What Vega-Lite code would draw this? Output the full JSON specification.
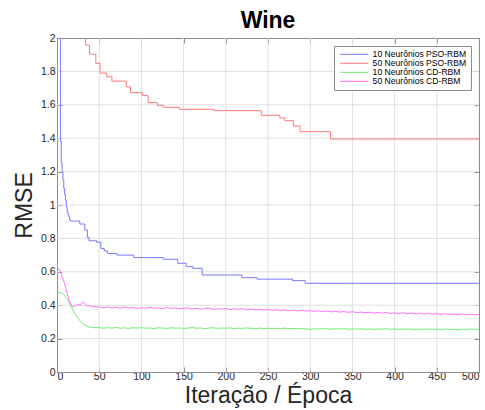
{
  "$schema": "https://vega.github.io/schema/vega-lite/v6.json",
  "width": 422,
  "height": 334,
  "autosize": {"type": "none"},
  "padding": {"left": 57, "top": 38, "right": 6, "bottom": 38},
  "background": "white",
  "title": {
    "text": "Wine",
    "font": "Liberation Sans",
    "fontSize": 23,
    "fontWeight": "bold",
    "color": "#000000",
    "anchor": "middle",
    "offset": 0
  },
  "config": {
    "view": {"stroke": "#8c8c8c", "strokeWidth": 1},
    "axis": {
      "labelFont": "Liberation Sans",
      "labelFontSize": 10.5,
      "labelColor": "#262626",
      "labelOverlap": false,
      "titleFont": "Liberation Sans",
      "titleFontWeight": "normal",
      "titleColor": "#262626",
      "titleFontSize": 23,
      "domainColor": "#8c8c8c",
      "tickColor": "#8c8c8c",
      "tickSize": -5,
      "grid": false
    },
    "legend": {
      "labelFont": "Liberation Sans",
      "labelFontSize": 8.6,
      "labelColor": "#000000"
    }
  },
  "resolve": {"axis": {"x": "independent", "y": "independent"}},
  "datasets": {
    "grade_x": [
      {"x": 50}, {"x": 100}, {"x": 150}, {"x": 200}, {"x": 250},
      {"x": 300}, {"x": 350}, {"x": 400}, {"x": 450}
    ],
    "grade_y": [
      {"rmse": 0.2}, {"rmse": 0.4}, {"rmse": 0.6}, {"rmse": 0.8}, {"rmse": 1},
      {"rmse": 1.2}, {"rmse": 1.4}, {"rmse": 1.6}, {"rmse": 1.8}
    ],
    "passos": [
      {"serie": "10 Neurônios PSO-RBM", "x": 0, "rmse": 3.5},
      {"serie": "10 Neurônios PSO-RBM", "x": 4, "rmse": 1.38},
      {"serie": "10 Neurônios PSO-RBM", "x": 5, "rmse": 1.25},
      {"serie": "10 Neurônios PSO-RBM", "x": 6, "rmse": 1.2},
      {"serie": "10 Neurônios PSO-RBM", "x": 7, "rmse": 1.15},
      {"serie": "10 Neurônios PSO-RBM", "x": 8, "rmse": 1.1},
      {"serie": "10 Neurônios PSO-RBM", "x": 9, "rmse": 1.06},
      {"serie": "10 Neurônios PSO-RBM", "x": 10, "rmse": 1.03},
      {"serie": "10 Neurônios PSO-RBM", "x": 11, "rmse": 0.99},
      {"serie": "10 Neurônios PSO-RBM", "x": 12, "rmse": 0.96},
      {"serie": "10 Neurônios PSO-RBM", "x": 13, "rmse": 0.94},
      {"serie": "10 Neurônios PSO-RBM", "x": 14, "rmse": 0.93},
      {"serie": "10 Neurônios PSO-RBM", "x": 15, "rmse": 0.91},
      {"serie": "10 Neurônios PSO-RBM", "x": 16, "rmse": 0.904},
      {"serie": "10 Neurônios PSO-RBM", "x": 27, "rmse": 0.886},
      {"serie": "10 Neurônios PSO-RBM", "x": 33, "rmse": 0.85},
      {"serie": "10 Neurônios PSO-RBM", "x": 36, "rmse": 0.806},
      {"serie": "10 Neurônios PSO-RBM", "x": 38, "rmse": 0.786},
      {"serie": "10 Neurônios PSO-RBM", "x": 47, "rmse": 0.777},
      {"serie": "10 Neurônios PSO-RBM", "x": 52, "rmse": 0.74},
      {"serie": "10 Neurônios PSO-RBM", "x": 56, "rmse": 0.725},
      {"serie": "10 Neurônios PSO-RBM", "x": 60, "rmse": 0.71},
      {"serie": "10 Neurônios PSO-RBM", "x": 71, "rmse": 0.7},
      {"serie": "10 Neurônios PSO-RBM", "x": 91, "rmse": 0.685},
      {"serie": "10 Neurônios PSO-RBM", "x": 126, "rmse": 0.675},
      {"serie": "10 Neurônios PSO-RBM", "x": 143, "rmse": 0.651},
      {"serie": "10 Neurônios PSO-RBM", "x": 153, "rmse": 0.631},
      {"serie": "10 Neurônios PSO-RBM", "x": 161, "rmse": 0.621},
      {"serie": "10 Neurônios PSO-RBM", "x": 172, "rmse": 0.581},
      {"serie": "10 Neurônios PSO-RBM", "x": 219, "rmse": 0.565},
      {"serie": "10 Neurônios PSO-RBM", "x": 237, "rmse": 0.556},
      {"serie": "10 Neurônios PSO-RBM", "x": 279, "rmse": 0.547},
      {"serie": "10 Neurônios PSO-RBM", "x": 294, "rmse": 0.531},
      {"serie": "10 Neurônios PSO-RBM", "x": 500, "rmse": 0.531},
      {"serie": "50 Neurônios PSO-RBM", "x": 0, "rmse": 2.4},
      {"serie": "50 Neurônios PSO-RBM", "x": 34, "rmse": 1.957},
      {"serie": "50 Neurônios PSO-RBM", "x": 38.5, "rmse": 1.903},
      {"serie": "50 Neurônios PSO-RBM", "x": 46, "rmse": 1.848},
      {"serie": "50 Neurônios PSO-RBM", "x": 51, "rmse": 1.79},
      {"serie": "50 Neurônios PSO-RBM", "x": 59, "rmse": 1.768},
      {"serie": "50 Neurônios PSO-RBM", "x": 65, "rmse": 1.742},
      {"serie": "50 Neurônios PSO-RBM", "x": 82, "rmse": 1.707},
      {"serie": "50 Neurônios PSO-RBM", "x": 87, "rmse": 1.673},
      {"serie": "50 Neurônios PSO-RBM", "x": 101, "rmse": 1.655},
      {"serie": "50 Neurônios PSO-RBM", "x": 108, "rmse": 1.613},
      {"serie": "50 Neurônios PSO-RBM", "x": 119, "rmse": 1.597},
      {"serie": "50 Neurônios PSO-RBM", "x": 126, "rmse": 1.585},
      {"serie": "50 Neurônios PSO-RBM", "x": 145, "rmse": 1.573},
      {"serie": "50 Neurônios PSO-RBM", "x": 186, "rmse": 1.565},
      {"serie": "50 Neurônios PSO-RBM", "x": 242, "rmse": 1.537},
      {"serie": "50 Neurônios PSO-RBM", "x": 264, "rmse": 1.521},
      {"serie": "50 Neurônios PSO-RBM", "x": 270, "rmse": 1.505},
      {"serie": "50 Neurônios PSO-RBM", "x": 280, "rmse": 1.473},
      {"serie": "50 Neurônios PSO-RBM", "x": 288, "rmse": 1.439},
      {"serie": "50 Neurônios PSO-RBM", "x": 324, "rmse": 1.395},
      {"serie": "50 Neurônios PSO-RBM", "x": 500, "rmse": 1.395}
    ],
    "ruido": [
      {"serie": "10 Neurônios CD-RBM", "x": 0, "rmse": 0.477},
      {"serie": "10 Neurônios CD-RBM", "x": 3, "rmse": 0.475},
      {"serie": "10 Neurônios CD-RBM", "x": 6, "rmse": 0.472},
      {"serie": "10 Neurônios CD-RBM", "x": 8, "rmse": 0.46},
      {"serie": "10 Neurônios CD-RBM", "x": 10, "rmse": 0.45},
      {"serie": "10 Neurônios CD-RBM", "x": 13, "rmse": 0.431},
      {"serie": "10 Neurônios CD-RBM", "x": 16, "rmse": 0.4},
      {"serie": "10 Neurônios CD-RBM", "x": 19, "rmse": 0.371},
      {"serie": "10 Neurônios CD-RBM", "x": 22, "rmse": 0.345},
      {"serie": "10 Neurônios CD-RBM", "x": 25, "rmse": 0.321},
      {"serie": "10 Neurônios CD-RBM", "x": 28, "rmse": 0.302},
      {"serie": "10 Neurônios CD-RBM", "x": 31, "rmse": 0.287},
      {"serie": "10 Neurônios CD-RBM", "x": 34, "rmse": 0.278},
      {"serie": "10 Neurônios CD-RBM", "x": 37, "rmse": 0.271},
      {"serie": "10 Neurônios CD-RBM", "x": 41, "rmse": 0.267},
      {"serie": "10 Neurônios CD-RBM", "x": 45, "rmse": 0.265},
      {"serie": "10 Neurônios CD-RBM", "x": 50, "rmse": 0.266},
      {"serie": "10 Neurônios CD-RBM", "x": 55, "rmse": 0.262},
      {"serie": "10 Neurônios CD-RBM", "x": 60, "rmse": 0.265},
      {"serie": "10 Neurônios CD-RBM", "x": 65, "rmse": 0.263},
      {"serie": "10 Neurônios CD-RBM", "x": 70, "rmse": 0.267},
      {"serie": "10 Neurônios CD-RBM", "x": 75, "rmse": 0.262},
      {"serie": "10 Neurônios CD-RBM", "x": 80, "rmse": 0.264},
      {"serie": "10 Neurônios CD-RBM", "x": 85, "rmse": 0.261},
      {"serie": "10 Neurônios CD-RBM", "x": 90, "rmse": 0.265},
      {"serie": "10 Neurônios CD-RBM", "x": 95, "rmse": 0.263},
      {"serie": "10 Neurônios CD-RBM", "x": 100, "rmse": 0.266},
      {"serie": "10 Neurônios CD-RBM", "x": 105, "rmse": 0.262},
      {"serie": "10 Neurônios CD-RBM", "x": 110, "rmse": 0.264},
      {"serie": "10 Neurônios CD-RBM", "x": 115, "rmse": 0.26},
      {"serie": "10 Neurônios CD-RBM", "x": 120, "rmse": 0.265},
      {"serie": "10 Neurônios CD-RBM", "x": 125, "rmse": 0.263},
      {"serie": "10 Neurônios CD-RBM", "x": 130, "rmse": 0.261},
      {"serie": "10 Neurônios CD-RBM", "x": 135, "rmse": 0.265},
      {"serie": "10 Neurônios CD-RBM", "x": 140, "rmse": 0.262},
      {"serie": "10 Neurônios CD-RBM", "x": 145, "rmse": 0.264},
      {"serie": "10 Neurônios CD-RBM", "x": 150, "rmse": 0.261},
      {"serie": "10 Neurônios CD-RBM", "x": 155, "rmse": 0.263},
      {"serie": "10 Neurônios CD-RBM", "x": 160, "rmse": 0.266},
      {"serie": "10 Neurônios CD-RBM", "x": 165, "rmse": 0.262},
      {"serie": "10 Neurônios CD-RBM", "x": 170, "rmse": 0.264},
      {"serie": "10 Neurônios CD-RBM", "x": 175, "rmse": 0.26},
      {"serie": "10 Neurônios CD-RBM", "x": 180, "rmse": 0.263},
      {"serie": "10 Neurônios CD-RBM", "x": 185, "rmse": 0.265},
      {"serie": "10 Neurônios CD-RBM", "x": 190, "rmse": 0.261},
      {"serie": "10 Neurônios CD-RBM", "x": 195, "rmse": 0.263},
      {"serie": "10 Neurônios CD-RBM", "x": 200, "rmse": 0.262},
      {"serie": "10 Neurônios CD-RBM", "x": 205, "rmse": 0.264},
      {"serie": "10 Neurônios CD-RBM", "x": 210, "rmse": 0.26},
      {"serie": "10 Neurônios CD-RBM", "x": 215, "rmse": 0.263},
      {"serie": "10 Neurônios CD-RBM", "x": 220, "rmse": 0.261},
      {"serie": "10 Neurônios CD-RBM", "x": 225, "rmse": 0.264},
      {"serie": "10 Neurônios CD-RBM", "x": 230, "rmse": 0.262},
      {"serie": "10 Neurônios CD-RBM", "x": 235, "rmse": 0.26},
      {"serie": "10 Neurônios CD-RBM", "x": 240, "rmse": 0.263},
      {"serie": "10 Neurônios CD-RBM", "x": 245, "rmse": 0.261},
      {"serie": "10 Neurônios CD-RBM", "x": 250, "rmse": 0.262},
      {"serie": "10 Neurônios CD-RBM", "x": 255, "rmse": 0.259},
      {"serie": "10 Neurônios CD-RBM", "x": 260, "rmse": 0.262},
      {"serie": "10 Neurônios CD-RBM", "x": 265, "rmse": 0.26},
      {"serie": "10 Neurônios CD-RBM", "x": 270, "rmse": 0.263},
      {"serie": "10 Neurônios CD-RBM", "x": 275, "rmse": 0.26},
      {"serie": "10 Neurônios CD-RBM", "x": 280, "rmse": 0.261},
      {"serie": "10 Neurônios CD-RBM", "x": 285, "rmse": 0.259},
      {"serie": "10 Neurônios CD-RBM", "x": 290, "rmse": 0.262},
      {"serie": "10 Neurônios CD-RBM", "x": 295, "rmse": 0.258},
      {"serie": "10 Neurônios CD-RBM", "x": 300, "rmse": 0.255},
      {"serie": "10 Neurônios CD-RBM", "x": 305, "rmse": 0.259},
      {"serie": "10 Neurônios CD-RBM", "x": 310, "rmse": 0.257},
      {"serie": "10 Neurônios CD-RBM", "x": 315, "rmse": 0.26},
      {"serie": "10 Neurônios CD-RBM", "x": 320, "rmse": 0.258},
      {"serie": "10 Neurônios CD-RBM", "x": 325, "rmse": 0.256},
      {"serie": "10 Neurônios CD-RBM", "x": 330, "rmse": 0.259},
      {"serie": "10 Neurônios CD-RBM", "x": 335, "rmse": 0.257},
      {"serie": "10 Neurônios CD-RBM", "x": 340, "rmse": 0.26},
      {"serie": "10 Neurônios CD-RBM", "x": 345, "rmse": 0.256},
      {"serie": "10 Neurônios CD-RBM", "x": 350, "rmse": 0.258},
      {"serie": "10 Neurônios CD-RBM", "x": 355, "rmse": 0.257},
      {"serie": "10 Neurônios CD-RBM", "x": 360, "rmse": 0.259},
      {"serie": "10 Neurônios CD-RBM", "x": 365, "rmse": 0.256},
      {"serie": "10 Neurônios CD-RBM", "x": 370, "rmse": 0.258},
      {"serie": "10 Neurônios CD-RBM", "x": 375, "rmse": 0.255},
      {"serie": "10 Neurônios CD-RBM", "x": 380, "rmse": 0.258},
      {"serie": "10 Neurônios CD-RBM", "x": 385, "rmse": 0.256},
      {"serie": "10 Neurônios CD-RBM", "x": 390, "rmse": 0.259},
      {"serie": "10 Neurônios CD-RBM", "x": 395, "rmse": 0.256},
      {"serie": "10 Neurônios CD-RBM", "x": 400, "rmse": 0.257},
      {"serie": "10 Neurônios CD-RBM", "x": 405, "rmse": 0.255},
      {"serie": "10 Neurônios CD-RBM", "x": 410, "rmse": 0.258},
      {"serie": "10 Neurônios CD-RBM", "x": 415, "rmse": 0.256},
      {"serie": "10 Neurônios CD-RBM", "x": 420, "rmse": 0.257},
      {"serie": "10 Neurônios CD-RBM", "x": 425, "rmse": 0.254},
      {"serie": "10 Neurônios CD-RBM", "x": 430, "rmse": 0.257},
      {"serie": "10 Neurônios CD-RBM", "x": 435, "rmse": 0.255},
      {"serie": "10 Neurônios CD-RBM", "x": 440, "rmse": 0.258},
      {"serie": "10 Neurônios CD-RBM", "x": 445, "rmse": 0.255},
      {"serie": "10 Neurônios CD-RBM", "x": 450, "rmse": 0.256},
      {"serie": "10 Neurônios CD-RBM", "x": 455, "rmse": 0.254},
      {"serie": "10 Neurônios CD-RBM", "x": 460, "rmse": 0.257},
      {"serie": "10 Neurônios CD-RBM", "x": 465, "rmse": 0.255},
      {"serie": "10 Neurônios CD-RBM", "x": 470, "rmse": 0.256},
      {"serie": "10 Neurônios CD-RBM", "x": 475, "rmse": 0.253},
      {"serie": "10 Neurônios CD-RBM", "x": 480, "rmse": 0.256},
      {"serie": "10 Neurônios CD-RBM", "x": 485, "rmse": 0.254},
      {"serie": "10 Neurônios CD-RBM", "x": 490, "rmse": 0.257},
      {"serie": "10 Neurônios CD-RBM", "x": 495, "rmse": 0.255},
      {"serie": "10 Neurônios CD-RBM", "x": 500, "rmse": 0.256},
      {"serie": "50 Neurônios CD-RBM", "x": 0, "rmse": 0.631},
      {"serie": "50 Neurônios CD-RBM", "x": 2, "rmse": 0.62},
      {"serie": "50 Neurônios CD-RBM", "x": 4, "rmse": 0.6},
      {"serie": "50 Neurônios CD-RBM", "x": 6, "rmse": 0.57},
      {"serie": "50 Neurônios CD-RBM", "x": 9, "rmse": 0.531},
      {"serie": "50 Neurônios CD-RBM", "x": 12, "rmse": 0.471},
      {"serie": "50 Neurônios CD-RBM", "x": 15, "rmse": 0.421},
      {"serie": "50 Neurônios CD-RBM", "x": 17, "rmse": 0.4},
      {"serie": "50 Neurônios CD-RBM", "x": 19, "rmse": 0.391},
      {"serie": "50 Neurônios CD-RBM", "x": 22, "rmse": 0.398},
      {"serie": "50 Neurônios CD-RBM", "x": 25, "rmse": 0.405},
      {"serie": "50 Neurônios CD-RBM", "x": 28, "rmse": 0.4},
      {"serie": "50 Neurônios CD-RBM", "x": 31, "rmse": 0.42},
      {"serie": "50 Neurônios CD-RBM", "x": 33, "rmse": 0.41},
      {"serie": "50 Neurônios CD-RBM", "x": 35, "rmse": 0.395},
      {"serie": "50 Neurônios CD-RBM", "x": 38, "rmse": 0.398},
      {"serie": "50 Neurônios CD-RBM", "x": 41, "rmse": 0.39},
      {"serie": "50 Neurônios CD-RBM", "x": 45, "rmse": 0.392},
      {"serie": "50 Neurônios CD-RBM", "x": 50, "rmse": 0.388},
      {"serie": "50 Neurônios CD-RBM", "x": 55, "rmse": 0.384},
      {"serie": "50 Neurônios CD-RBM", "x": 60, "rmse": 0.39},
      {"serie": "50 Neurônios CD-RBM", "x": 65, "rmse": 0.383},
      {"serie": "50 Neurônios CD-RBM", "x": 70, "rmse": 0.387},
      {"serie": "50 Neurônios CD-RBM", "x": 75, "rmse": 0.381},
      {"serie": "50 Neurônios CD-RBM", "x": 80, "rmse": 0.389},
      {"serie": "50 Neurônios CD-RBM", "x": 85, "rmse": 0.384},
      {"serie": "50 Neurônios CD-RBM", "x": 90, "rmse": 0.386},
      {"serie": "50 Neurônios CD-RBM", "x": 95, "rmse": 0.38},
      {"serie": "50 Neurônios CD-RBM", "x": 100, "rmse": 0.385},
      {"serie": "50 Neurônios CD-RBM", "x": 105, "rmse": 0.382},
      {"serie": "50 Neurônios CD-RBM", "x": 110, "rmse": 0.388},
      {"serie": "50 Neurônios CD-RBM", "x": 115, "rmse": 0.381},
      {"serie": "50 Neurônios CD-RBM", "x": 120, "rmse": 0.384},
      {"serie": "50 Neurônios CD-RBM", "x": 125, "rmse": 0.379},
      {"serie": "50 Neurônios CD-RBM", "x": 130, "rmse": 0.386},
      {"serie": "50 Neurônios CD-RBM", "x": 135, "rmse": 0.381},
      {"serie": "50 Neurônios CD-RBM", "x": 140, "rmse": 0.383},
      {"serie": "50 Neurônios CD-RBM", "x": 145, "rmse": 0.378},
      {"serie": "50 Neurônios CD-RBM", "x": 150, "rmse": 0.382},
      {"serie": "50 Neurônios CD-RBM", "x": 155, "rmse": 0.384},
      {"serie": "50 Neurônios CD-RBM", "x": 160, "rmse": 0.377},
      {"serie": "50 Neurônios CD-RBM", "x": 165, "rmse": 0.381},
      {"serie": "50 Neurônios CD-RBM", "x": 170, "rmse": 0.376},
      {"serie": "50 Neurônios CD-RBM", "x": 175, "rmse": 0.38},
      {"serie": "50 Neurônios CD-RBM", "x": 180, "rmse": 0.383},
      {"serie": "50 Neurônios CD-RBM", "x": 185, "rmse": 0.375},
      {"serie": "50 Neurônios CD-RBM", "x": 190, "rmse": 0.379},
      {"serie": "50 Neurônios CD-RBM", "x": 195, "rmse": 0.376},
      {"serie": "50 Neurônios CD-RBM", "x": 200, "rmse": 0.381},
      {"serie": "50 Neurônios CD-RBM", "x": 205, "rmse": 0.374},
      {"serie": "50 Neurônios CD-RBM", "x": 210, "rmse": 0.378},
      {"serie": "50 Neurônios CD-RBM", "x": 215, "rmse": 0.375},
      {"serie": "50 Neurônios CD-RBM", "x": 220, "rmse": 0.379},
      {"serie": "50 Neurônios CD-RBM", "x": 225, "rmse": 0.373},
      {"serie": "50 Neurônios CD-RBM", "x": 230, "rmse": 0.377},
      {"serie": "50 Neurônios CD-RBM", "x": 235, "rmse": 0.372},
      {"serie": "50 Neurônios CD-RBM", "x": 240, "rmse": 0.376},
      {"serie": "50 Neurônios CD-RBM", "x": 245, "rmse": 0.371},
      {"serie": "50 Neurônios CD-RBM", "x": 250, "rmse": 0.375},
      {"serie": "50 Neurônios CD-RBM", "x": 255, "rmse": 0.369},
      {"serie": "50 Neurônios CD-RBM", "x": 260, "rmse": 0.373},
      {"serie": "50 Neurônios CD-RBM", "x": 265, "rmse": 0.368},
      {"serie": "50 Neurônios CD-RBM", "x": 270, "rmse": 0.372},
      {"serie": "50 Neurônios CD-RBM", "x": 275, "rmse": 0.367},
      {"serie": "50 Neurônios CD-RBM", "x": 280, "rmse": 0.371},
      {"serie": "50 Neurônios CD-RBM", "x": 285, "rmse": 0.366},
      {"serie": "50 Neurônios CD-RBM", "x": 290, "rmse": 0.369},
      {"serie": "50 Neurônios CD-RBM", "x": 295, "rmse": 0.365},
      {"serie": "50 Neurônios CD-RBM", "x": 300, "rmse": 0.368},
      {"serie": "50 Neurônios CD-RBM", "x": 305, "rmse": 0.362},
      {"serie": "50 Neurônios CD-RBM", "x": 310, "rmse": 0.366},
      {"serie": "50 Neurônios CD-RBM", "x": 315, "rmse": 0.361},
      {"serie": "50 Neurônios CD-RBM", "x": 320, "rmse": 0.365},
      {"serie": "50 Neurônios CD-RBM", "x": 325, "rmse": 0.36},
      {"serie": "50 Neurônios CD-RBM", "x": 330, "rmse": 0.364},
      {"serie": "50 Neurônios CD-RBM", "x": 335, "rmse": 0.359},
      {"serie": "50 Neurônios CD-RBM", "x": 340, "rmse": 0.362},
      {"serie": "50 Neurônios CD-RBM", "x": 345, "rmse": 0.357},
      {"serie": "50 Neurônios CD-RBM", "x": 350, "rmse": 0.361},
      {"serie": "50 Neurônios CD-RBM", "x": 355, "rmse": 0.356},
      {"serie": "50 Neurônios CD-RBM", "x": 360, "rmse": 0.359},
      {"serie": "50 Neurônios CD-RBM", "x": 365, "rmse": 0.355},
      {"serie": "50 Neurônios CD-RBM", "x": 370, "rmse": 0.358},
      {"serie": "50 Neurônios CD-RBM", "x": 375, "rmse": 0.353},
      {"serie": "50 Neurônios CD-RBM", "x": 380, "rmse": 0.357},
      {"serie": "50 Neurônios CD-RBM", "x": 385, "rmse": 0.352},
      {"serie": "50 Neurônios CD-RBM", "x": 390, "rmse": 0.356},
      {"serie": "50 Neurônios CD-RBM", "x": 395, "rmse": 0.351},
      {"serie": "50 Neurônios CD-RBM", "x": 400, "rmse": 0.354},
      {"serie": "50 Neurônios CD-RBM", "x": 405, "rmse": 0.35},
      {"serie": "50 Neurônios CD-RBM", "x": 410, "rmse": 0.355},
      {"serie": "50 Neurônios CD-RBM", "x": 415, "rmse": 0.349},
      {"serie": "50 Neurônios CD-RBM", "x": 420, "rmse": 0.353},
      {"serie": "50 Neurônios CD-RBM", "x": 425, "rmse": 0.348},
      {"serie": "50 Neurônios CD-RBM", "x": 430, "rmse": 0.352},
      {"serie": "50 Neurônios CD-RBM", "x": 435, "rmse": 0.347},
      {"serie": "50 Neurônios CD-RBM", "x": 440, "rmse": 0.351},
      {"serie": "50 Neurônios CD-RBM", "x": 445, "rmse": 0.346},
      {"serie": "50 Neurônios CD-RBM", "x": 450, "rmse": 0.35},
      {"serie": "50 Neurônios CD-RBM", "x": 455, "rmse": 0.345},
      {"serie": "50 Neurônios CD-RBM", "x": 460, "rmse": 0.349},
      {"serie": "50 Neurônios CD-RBM", "x": 465, "rmse": 0.344},
      {"serie": "50 Neurônios CD-RBM", "x": 470, "rmse": 0.348},
      {"serie": "50 Neurônios CD-RBM", "x": 475, "rmse": 0.343},
      {"serie": "50 Neurônios CD-RBM", "x": 480, "rmse": 0.347},
      {"serie": "50 Neurônios CD-RBM", "x": 485, "rmse": 0.343},
      {"serie": "50 Neurônios CD-RBM", "x": 490, "rmse": 0.346},
      {"serie": "50 Neurônios CD-RBM", "x": 495, "rmse": 0.342},
      {"serie": "50 Neurônios CD-RBM", "x": 500, "rmse": 0.345}
    ]
  },
  "layer": [
    {
      "data": {"name": "grade_x"},
      "mark": {"type": "rule", "color": "#e0e0e0", "strokeWidth": 1},
      "encoding": {
        "x": {"field": "x", "type": "quantitative", "axis": null}
      }
    },
    {
      "data": {"name": "grade_y"},
      "mark": {"type": "rule", "color": "#e0e0e0", "strokeWidth": 1},
      "encoding": {
        "y": {"field": "rmse", "type": "quantitative", "axis": null}
      }
    },
    {
      "data": {"name": "passos"},
      "mark": {"type": "line", "interpolate": "step-after", "strokeWidth": 1, "clip": true},
      "encoding": {
        "x": {
          "field": "x", "type": "quantitative",
          "scale": {"domain": [0, 500], "nice": false},
          "axis": {"orient": "bottom", "values": [0, 50, 100, 150, 200, 250, 300, 350, 400, 450, 500], "title": "Iteração / Época", "labelPadding": 4, "titlePadding": 3}
        },
        "y": {
          "field": "rmse", "type": "quantitative",
          "scale": {"domain": [0, 2], "nice": false},
          "axis": {"orient": "left", "values": [0, 0.2, 0.4, 0.6, 0.8, 1, 1.2, 1.4, 1.6, 1.8, 2], "format": "~g", "title": "RMSE", "labelPadding": 7, "titlePadding": 4}
        },
        "color": {
          "field": "serie", "type": "nominal",
          "scale": {
            "domain": ["10 Neurônios PSO-RBM", "50 Neurônios PSO-RBM", "10 Neurônios CD-RBM", "50 Neurônios CD-RBM"],
            "range": ["#7878ff", "#ff7878", "#70ee70", "#ff70ff"]
          },
          "legend": {
            "title": null,
            "orient": "top-right",
            "offset": 8,
            "fillColor": "white",
            "strokeColor": "#8c8c8c",
            "padding": 4,
            "symbolType": "M-7,0H7",
            "symbolSize": 16,
            "symbolStrokeWidth": 1,
            "symbolOffset": 12,
            "labelOffset": 14,
            "rowPadding": -1
          }
        }
      }
    },
    {
      "data": {"name": "ruido"},
      "mark": {"type": "line", "strokeWidth": 1, "clip": true},
      "encoding": {
        "x": {
          "field": "x", "type": "quantitative",
          "axis": {"orient": "top", "values": [0, 50, 100, 150, 200, 250, 300, 350, 400, 450, 500], "labels": false, "domain": false, "title": null}
        },
        "y": {
          "field": "rmse", "type": "quantitative",
          "axis": {"orient": "right", "values": [0, 0.2, 0.4, 0.6, 0.8, 1, 1.2, 1.4, 1.6, 1.8, 2], "labels": false, "domain": false, "title": null}
        },
        "color": {"field": "serie", "type": "nominal"}
      }
    }
  ]
}
